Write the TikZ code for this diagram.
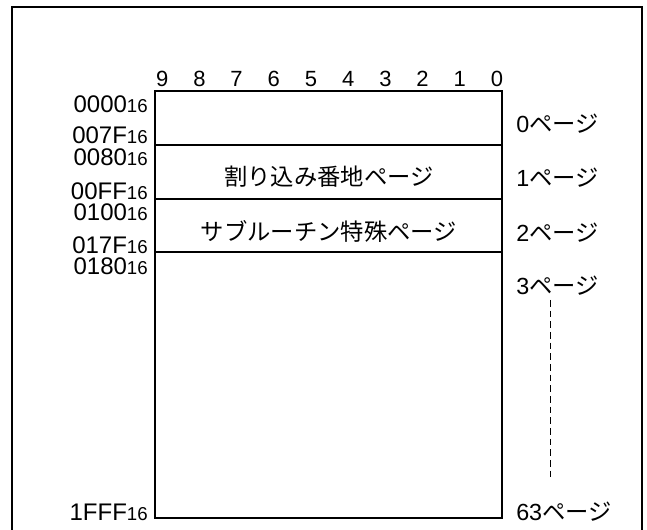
\documentclass[tikz,border=0pt]{standalone}
\usepackage{fontspec}
\setmainfont{Liberation Sans}
\newfontfamily\jp{Noto Sans CJK JP}
\newcommand{\hx}[1]{{\fontsize{18}{18}\selectfont #1}{\fontsize{14}{14}\selectfont 16}}
\newcommand{\pg}[1]{{\fontsize{17.5}{17.5}\selectfont #1{\jp ページ}}}
\tikzset{addr/.style={anchor=base east,inner sep=0pt},
         bitno/.style={anchor=base,inner sep=0pt,font=\fontsize{16.5}{16.5}\selectfont},
         pglbl/.style={anchor=base west,inner sep=0pt},
         area/.style={font=\jp\fontsize{17.5}{17.5}\selectfont,inner sep=0pt}}
\begin{document}
\begin{tikzpicture}[x=0.75pt,y=-0.75pt]
      \useasboundingbox (0,0) rectangle (647,530);
      \draw[line width=1.6pt] (12,530) -- (12,7) -- (642,7) -- (642,530);

      \coordinate (tl) at (155,91);
      \coordinate (br) at (502,518);
      \draw[line width=1.5pt] (tl) rectangle (br);
      \foreach \y in {145,199,252}
      {\draw[line width=0.8pt] (155,\y) -- (502,\y);
      };

      \foreach \b in {0,...,9}
      {\node[bitno] (bit\b) at ({497 - 37.2*\b},86.7) {\b};
      };

      \foreach \a/\y in {0000/112.3,
                         007F/143.3,
                         0080/166,
                         00FF/199.5,
                         0100/220.3,
                         017F/253.3,
                         0180/274.8,
                         1FFF/520.5}
      {\node[addr] (a\a) at (148,\y) {\hx{\a}};
      };

      \foreach \p/\y in {0/132.7,
                         1/186.7,
                         2/241.7,
                         3/295,
                         63/520.5}
      {\node[pglbl] (p\p) at (516,\y) {\pg{\p}};
      };

      \node[area] (intr) at (329,177) {割り込み番地ページ};
      \node[area] (subr) at (329,231) {サブルーチン特殊ページ};

      \coordinate (dtop) at (550,300);
      \coordinate (dbot) at (550,477);
      \draw[line width=0.7pt,dash pattern=on 5pt off 3pt] (dtop) -- (dbot);
    \end{tikzpicture}
\end{document}
